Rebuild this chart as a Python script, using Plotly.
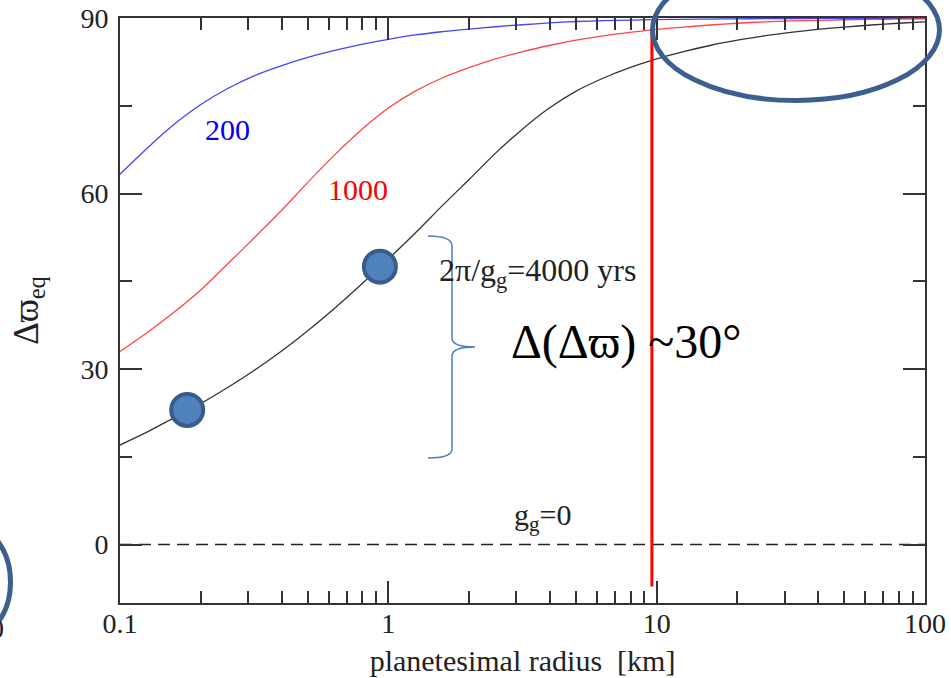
import plotly.graph_objects as go

# ---------------- data ----------------
radius_km = [0.1, 0.126, 0.158, 0.2, 0.251, 0.316, 0.398, 0.501, 0.631, 0.794,
             1.0, 1.26, 1.58, 2.0, 2.51, 3.16, 3.98, 5.01, 6.31, 7.94,
             10.0, 12.6, 15.8, 20.0, 25.1, 31.6, 39.8, 50.1, 63.1, 79.4, 100.0]

# 2*pi/g_g = 200 yrs
dw_200yr = [63.3, 67.7, 71.7, 75.2, 77.9, 80.1, 81.8, 83.25, 84.45, 85.5,
            86.35, 87.1, 87.65, 88.1, 88.5, 88.85, 89.15, 89.4, 89.55, 89.65,
            89.72, 89.78, 89.82, 89.86, 89.88, 89.9, 89.92, 89.93, 89.94, 89.95, 89.96]

# 2*pi/g_g = 1000 yrs
dw_1000yr = [33.0, 36.2, 39.6, 43.5, 47.9, 52.4, 57.0, 61.9, 66.6, 70.9,
             74.6, 77.5, 79.7, 81.5, 83.0, 84.25, 85.3, 86.2, 86.95, 87.55,
             88.05, 88.45, 88.8, 89.1, 89.35, 89.5, 89.6, 89.7, 89.75, 89.8, 89.85]

# 2*pi/g_g = 4000 yrs
dw_4000yr = [17.0, 19.2, 21.6, 24.1, 26.8, 29.75, 33.0, 36.55, 40.4, 44.5,
             48.8, 53.25, 57.8, 62.4, 66.9, 71.0, 74.6, 77.5, 79.7, 81.5,
             83.0, 84.25, 85.3, 86.2, 86.95, 87.55, 88.05, 88.45, 88.8, 89.1, 89.35]

zero_r = [0.1, 100.0]          # g_g = 0 case
zero_val = [0.0, 0.0]

cut_r = [9.6, 9.6]             # red vertical marker line
cut_val = [-7.2, 88.2]

pts_r = [0.178, 0.93]          # highlighted points on the 4000 yr curve
pts_val = [23.0, 47.5]

x_tickvals = [0.1, 1, 10, 100]
x_ticktext = ["0.1", "1", "10", "100"]
x_minor = [0.2, 0.3, 0.4, 0.5, 0.6, 0.7, 0.8, 0.9, 2, 3, 4, 5, 6, 7, 8, 9,
           20, 30, 40, 50, 60, 70, 80, 90]
y_tickvals = [0, 30, 60, 90]
y_ticktext = ["0", "30", "60", "90"]
y_minor = [15, 45, 75]

# ---------------- layout geometry ----------------
W_FIG, H_FIG = 951, 678
L, R, T, B = 120, 26, 18, 75
PW = W_FIG - L - R
PH = H_FIG - T - B


def px(xp):
    return (xp - L) / PW


def py(yp):
    return (T + PH - yp) / PH


SERIF = "Liberation Serif, DejaVu Serif, Times New Roman, serif"

fig = go.Figure()

fig.add_trace(go.Scatter(x=radius_km, y=dw_200yr, mode="lines",
                         line=dict(color="#4444ff", width=1.3, shape="spline", smoothing=0.8), name="200 yrs"))
fig.add_trace(go.Scatter(x=radius_km, y=dw_1000yr, mode="lines",
                         line=dict(color="#ff4444", width=1.3, shape="spline", smoothing=0.8), name="1000 yrs"))
fig.add_trace(go.Scatter(x=radius_km, y=dw_4000yr, mode="lines",
                         line=dict(color="#333333", width=1.3, shape="spline", smoothing=0.8), name="4000 yrs"))
fig.add_trace(go.Scatter(x=zero_r, y=zero_val, mode="lines",
                         line=dict(color="#222222", width=1.5, dash="12px,7px"), name="g_g=0"))
fig.add_trace(go.Scatter(x=cut_r, y=cut_val, mode="lines", line=dict(color="#ff0000", width=3), name="cut",
                         cliponaxis=False))
fig.add_trace(go.Scatter(x=pts_r, y=pts_val, mode="markers",
                         marker=dict(size=32, color="#4F81BD", line=dict(color="#385D8A", width=4)),
                         name="points", cliponaxis=False))

# ---------------- decorations ----------------
shapes = []
# big ellipse top-right
shapes.append(dict(type="circle", xref="paper", yref="paper", layer="above",
                   x0=px(652.5), x1=px(939.5), y0=py(100.5), y1=py(-40.5),
                   line=dict(color="#3B5F8E", width=5)))
# partial ellipse bottom-left
shapes.append(dict(type="circle", xref="paper", yref="paper", layer="above",
                   x0=px(-70.5), x1=px(10.5), y0=py(638), y1=py(526),
                   line=dict(color="#3B5F8E", width=5)))
# curly brace
bp = [("M", [(428, 236)]), ("Q", [(452, 236), (452, 246)]), ("L", [(452, 338)]),
      ("Q", [(452, 347), (475, 347)]), ("Q", [(452, 347), (452, 356)]), ("L", [(452, 449)]),
      ("Q", [(452, 458), (428, 458)])]
path = " ".join(cmd + " " + " ".join(f"{px(a):.5f},{py(b):.5f}" for a, b in pts) for cmd, pts in bp)
shapes.append(dict(type="path", xref="paper", yref="paper", layer="above", path=path,
                   line=dict(color="#4A7EBB", width=1.5)))

annotations = [
    dict(text="200", x=px(227), y=py(129), xanchor="center", yanchor="middle",
         font=dict(family=SERIF, size=30, color="#0000ff")),
    dict(text="1000", x=px(357.5), y=py(190), xanchor="center", yanchor="middle",
         font=dict(family=SERIF, size=30, color="#ff0000")),
    dict(text="2π/g<sub>g</sub>=4000 yrs", x=px(437), y=py(272), xanchor="left", yanchor="middle",
         font=dict(family=SERIF, size=32, color="#222222")),
    dict(text="g<sub>g</sub>=0", x=px(512), y=py(517), xanchor="left", yanchor="middle",
         font=dict(family=SERIF, size=30, color="#222222")),
    dict(text="Δ(Δϖ) ~30°", x=px(509), y=py(342), xanchor="left", yanchor="middle",
         font=dict(family=SERIF, size=48, color="#000000")),
    dict(text="0", x=px(6), y=py(628), xanchor="right", yanchor="middle",
         font=dict(family=SERIF, size=28, color="#222222")),
]
for a in annotations:
    a.update(xref="paper", yref="paper", showarrow=False)

fig.update_layout(
    width=W_FIG, height=H_FIG, autosize=False,
    margin=dict(l=L, r=R, t=T, b=B, pad=0),
    template="none",
    paper_bgcolor="white", plot_bgcolor="white",
    showlegend=False,
    shapes=shapes, annotations=annotations,
    font=dict(family=SERIF, size=28, color="#222222"),
)

fig.update_xaxes(
    type="log", range=[-1, 2], showgrid=False, zeroline=False,
    showline=True, linecolor="#333333", linewidth=2, mirror="ticks",
    ticks="inside", ticklen=22, tickwidth=2, tickcolor="#333333",
    tickmode="array", tickvals=x_tickvals, ticktext=x_ticktext,
    tickfont=dict(family=SERIF, size=28, color="#222222"), ticklabelstandoff=-6,
    minor=dict(tickmode="array", tickvals=x_minor, ticks="inside", ticklen=12, tickwidth=2,
               tickcolor="#333333", showgrid=False),
    title=dict(text="planetesimal radius  [km]", font=dict(family=SERIF, size=30, color="#222222"), standoff=12),
    automargin=False,
)
fig.update_yaxes(
    range=[-10, 90], showgrid=False, zeroline=False,
    showline=True, linecolor="#333333", linewidth=2, mirror="ticks",
    ticks="inside", ticklen=22, tickwidth=2, tickcolor="#333333",
    tickmode="array", tickvals=y_tickvals, ticktext=y_ticktext,
    tickfont=dict(family=SERIF, size=28, color="#222222"), ticklabelstandoff=4,
    minor=dict(tickmode="array", tickvals=y_minor, ticks="inside", ticklen=12, tickwidth=2,
               tickcolor="#333333", showgrid=False),
    title=dict(text="Δϖ<sub>eq</sub>", font=dict(family=SERIF, size=35, color="#222222"), standoff=31),
    automargin=False,
)

fig.write_html("out.html", config={"displayModeBar": False},
               post_script="document.body.style.margin='0px';")
